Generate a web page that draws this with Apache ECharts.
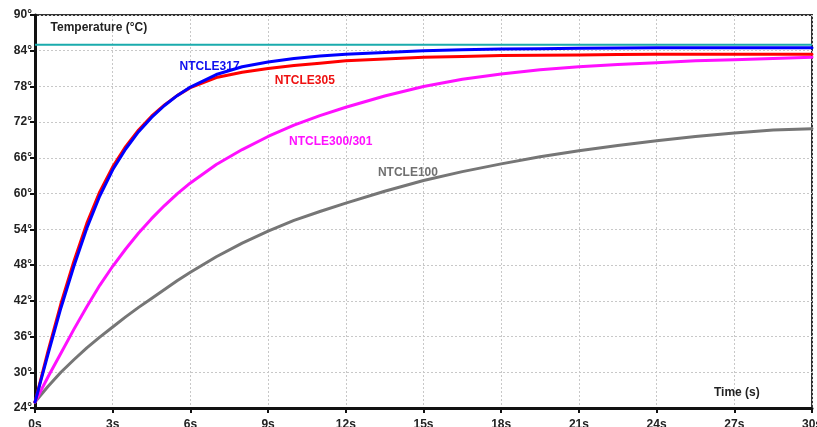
<!DOCTYPE html>
<html lang="en">
<head>
  <meta charset="UTF-8">
  <title>NTC temperature response</title>
  <script src="https://cdn.jsdelivr.net/npm/echarts@6/dist/echarts.min.js"></script>
  <style>
    html, body { margin: 0; padding: 0; background: #fff; }
    #chart { width: 817px; height: 427px; }
  </style>
</head>
<body>
  <div id="chart"></div>
<script>
  // time points (s)
  const times = [0, 0.5, 1, 1.5, 2, 2.5, 3, 3.5, 4, 4.5, 5, 5.5, 6,
                 7, 8, 9, 10, 11, 12,
                 13.5, 15, 16.5, 18, 19.5, 21, 22.5, 24, 25.5, 27, 28.5, 30];

  // temperature readings (°C) per sensor
  const ntcle317 = [25, 33, 40.8, 47.8, 54.2, 59.6, 64, 67.5, 70.4, 72.8, 74.8, 76.5, 77.9,
                    80, 81.3, 82.1, 82.7, 83.1, 83.4,
                    83.7, 84, 84.15, 84.3, 84.35, 84.4, 84.45, 84.5, 84.5, 84.5, 84.5, 84.5];
  const ntcle305 = [25, 33.5, 41.5, 48.6, 55, 60.3, 64.5, 67.9, 70.7, 73, 74.9, 76.5, 77.8,
                    79.5, 80.4, 81, 81.5, 81.9, 82.3,
                    82.6, 82.9, 83.05, 83.2, 83.25, 83.3, 83.35, 83.4, 83.4, 83.4, 83.4, 83.4];
  const ntcle300 = [25, 29.2, 33.2, 37.2, 41, 44.6, 47.8, 50.7, 53.4, 55.8, 58, 60, 61.8,
                    64.9, 67.4, 69.6, 71.5, 73.1, 74.5,
                    76.4, 78, 79.2, 80.1, 80.8, 81.3, 81.7, 82, 82.3, 82.5, 82.7, 82.9];
  const ntcle100 = [25, 27.6, 30, 32.1, 34.1, 35.9, 37.6, 39.3, 40.9, 42.4, 43.9, 45.4, 46.8,
                    49.4, 51.7, 53.7, 55.5, 57, 58.4,
                    60.4, 62.2, 63.7, 65, 66.2, 67.2, 68.1, 68.9, 69.6, 70.2, 70.7, 70.9];

  // ambient / target temperature
  const targetTemp = 85;

  const xTicks = { min: 0, max: 30, step: 3 };
  const yTicks = { min: 24, max: 90, step: 6 };

  // series label anchors (data coordinates: [time, temp])
  const labelNames = ['NTCLE317', 'NTCLE305', 'NTCLE300/301', 'NTCLE100'];
  const labelAnchors = [[6.74, 81.3], [10.42, 79.0], [11.42, 68.8], [14.4, 63.6]];
  const labelColors = ['#1010ee', '#ee1111', '#ff10ff', '#707070'];

  function pairs(values) {
    return times.map((t, i) => [t, values[i]]);
  }

  const chart = echarts.init(document.getElementById('chart'));
  const FONT = 'bold 12px Liberation Sans, Arial, sans-serif';
  const axisFont = { fontFamily: 'Liberation Sans, Arial, sans-serif', fontSize: 12, fontWeight: 'bold', color: '#222' };

  const lineStyleOf = (color, width) => ({ color: color, width: width });

  function curve(name, values, color) {
    return {
      name: name, type: 'line', data: pairs(values),
      showSymbol: false, smooth: false,
      lineStyle: Object.assign(lineStyleOf(color, 3), { join: 'round', cap: 'round' })
    };
  }

  const option = {
    animation: false,
    grid: {
      left: 35, right: 5, top: 15, bottom: 19,
      outerBoundsMode: 'none',
      show: true, borderColor: '#333', borderWidth: 2
    },
    xAxis: {
      type: 'value',
      min: xTicks.min, max: xTicks.max, interval: xTicks.step,
      axisLine: { lineStyle: { color: '#111', width: 3 } },
      axisTick: { show: true, length: 5, lineStyle: { color: '#111', width: 2 } },
      axisLabel: Object.assign({ formatter: '{value}s', margin: 11 }, axisFont),
      splitLine: { show: true, lineStyle: { color: '#c8c8c8', type: [2, 2], width: 1 } }
    },
    yAxis: {
      type: 'value',
      min: yTicks.min, max: yTicks.max, interval: yTicks.step,
      axisLine: { show: true, lineStyle: { color: '#111', width: 3 } },
      axisTick: { show: true, length: 5, lineStyle: { color: '#111', width: 2 } },
      axisLabel: Object.assign({ formatter: '{value}°', margin: 3 }, axisFont),
      splitLine: { show: true, lineStyle: { color: '#c8c8c8', type: [2, 2], width: 1 } }
    },
    series: [
      curve('NTCLE100', ntcle100, '#767676'),
      curve('NTCLE300/301', ntcle300, '#ff10ff'),
      curve('NTCLE305', ntcle305, '#ff0000'),
      curve('NTCLE317', ntcle317, '#0000ff'),
      { name: 'Target', type: 'line', data: [[xTicks.min, targetTemp], [xTicks.max, targetTemp]], showSymbol: false, lineStyle: lineStyleOf('#1aabad', 2) }
    ]
  };

  chart.setOption(option);

  // place text labels using the chart's own coordinate system
  const texts = labelNames.map((name, i) => {
    const p = chart.convertToPixel({ gridIndex: 0 }, labelAnchors[i]);
    return {
      type: 'text', x: p[0], y: p[1],
      style: { text: name, fill: labelColors[i], font: FONT, textAlign: 'center', textVerticalAlign: 'middle' }
    };
  });
  const tempTitle = chart.convertToPixel({ gridIndex: 0 }, [0.6, 87.9]);
  const timeTitle = chart.convertToPixel({ gridIndex: 0 }, [27.1, 26.5]);
  texts.push({
    type: 'text', x: tempTitle[0], y: tempTitle[1],
    style: { text: 'Temperature (°C)', fill: '#222', font: FONT, textAlign: 'left', textVerticalAlign: 'middle' }
  });
  texts.push({
    type: 'text', x: timeTitle[0], y: timeTitle[1],
    style: { text: 'Time (s)', fill: '#222', font: FONT, textAlign: 'center', textVerticalAlign: 'middle' }
  });

  chart.setOption({ graphic: texts });
</script>
</body>
</html>
